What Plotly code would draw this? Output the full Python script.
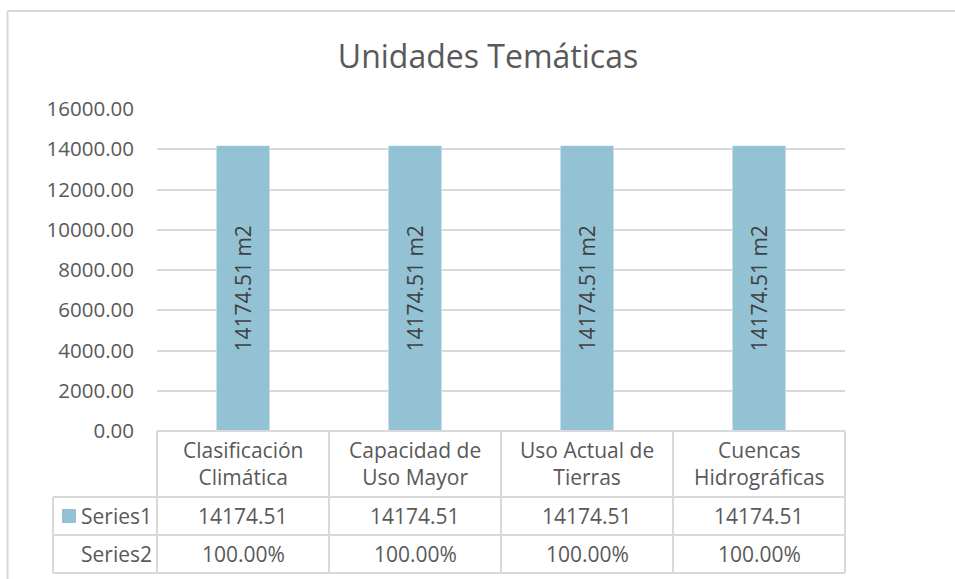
import plotly.graph_objects as go

categories = ["Clasificación<br>Climática", "Capacidad de<br>Uso Mayor", "Uso Actual de<br>Tierras", "Cuencas<br>Hidrográficas"]
series1 = [14174.51, 14174.51, 14174.51, 14174.51]
series2 = [100.00, 100.00, 100.00, 100.00]
series_names = ["Series1", "Series2"]
title_text = "Unidades Temáticas"

W, H = 955, 579
L, R, T, B = 157, 845, 109, 431
FONT = "Open Sans"
TXT = "#595959"
GRID = "#D9D9D9"
BAR = "#93C2D5"

def xp(px):
    return (px - L) / (R - L)

def yp(py):
    return (B - py) / (B - T)

n = len(categories)
fig = go.Figure()
fig.add_trace(go.Bar(
    x=list(range(n)), y=series1, width=0.31, marker_color=BAR,
    text=[f"{v:.2f} m2" for v in series1], textposition="inside",
    insidetextanchor="middle", textangle=-90,
    textfont=dict(family=FONT, size=21, color="#404040"),
    showlegend=False, hoverinfo="skip",
))

shapes = []
line = dict(color=GRID, width=2)
# outer chart frame
shapes.append(dict(type="line", xref="paper", yref="paper", x0=xp(7.5), x1=xp(960), y0=yp(11), y1=yp(11), line=line))
shapes.append(dict(type="line", xref="paper", yref="paper", x0=xp(7.5), x1=xp(7.5), y0=yp(11), y1=yp(585), line=line))
# data table grid
row_y = [431, 497, 535, 573]
for i in range(n + 1):
    shapes.append(dict(type="line", xref="paper", yref="paper", x0=i / n, x1=i / n,
                       y0=yp(row_y[0]), y1=yp(row_y[-1]), line=line))
for k, ry in enumerate(row_y):
    x0 = 0 if k == 0 else xp(53)
    shapes.append(dict(type="line", xref="paper", yref="paper", x0=x0, x1=1,
                       y0=yp(ry), y1=yp(ry), line=line))
shapes.append(dict(type="line", xref="paper", yref="paper", x0=xp(53), x1=xp(53),
                   y0=yp(row_y[1]), y1=yp(row_y[-1]), line=line))
# legend key
shapes.append(dict(type="rect", xref="paper", yref="paper", x0=xp(62), x1=xp(76),
                   y0=yp(509), y1=yp(523), fillcolor=BAR, line=dict(width=0)))

ann = []
afont = dict(family=FONT, size=21, color=TXT)
for i, c in enumerate(categories):
    xc = (i + 0.5) / n
    ann.append(dict(text=c, x=xc, y=yp(463), xref="paper", yref="paper", showarrow=False,
                    xanchor="center", yanchor="middle", font=afont, align="center"))
    ann.append(dict(text=f"{series1[i]:.2f}", x=xc, y=yp(516), xref="paper", yref="paper",
                    showarrow=False, xanchor="center", yanchor="middle", font=afont))
    ann.append(dict(text=f"{series2[i]:.2f}%", x=xc, y=yp(554), xref="paper", yref="paper",
                    showarrow=False, xanchor="center", yanchor="middle", font=afont))
for name, cy in zip(series_names, [516, 554]):
    ann.append(dict(text=name, x=xp(153.5), y=yp(cy), xref="paper", yref="paper", showarrow=False,
                    xanchor="right", yanchor="middle", font=afont))

fig.update_layout(
    width=W, height=H,
    margin=dict(l=L, r=W - R, t=T, b=H - B, pad=0),
    paper_bgcolor="white", plot_bgcolor="white",
    title=dict(text=title_text, x=488 / W, y=1 - 57 / H, xref="container", yref="container",
               xanchor="center", yanchor="middle",
               font=dict(family=FONT, size=32, color=TXT)),
    xaxis=dict(range=[-0.5, n - 0.5], showticklabels=False, showgrid=False, zeroline=False,
               showline=False, ticks=""),
    yaxis=dict(range=[0, 16000], dtick=2000, tickformat=".2f", showgrid=True, gridcolor=GRID,
               gridwidth=1.5, zeroline=False, showline=False, ticks="", ticklabelstandoff=22,
               tickfont=dict(family=FONT, size=20.5, color=TXT)),
    shapes=shapes, annotations=ann,
    uniformtext=dict(minsize=8, mode="show"),
)
fig.write_html("out.html", config={"displayModeBar": False},
               post_script="document.body.style.margin='0';document.body.style.padding='0';")
